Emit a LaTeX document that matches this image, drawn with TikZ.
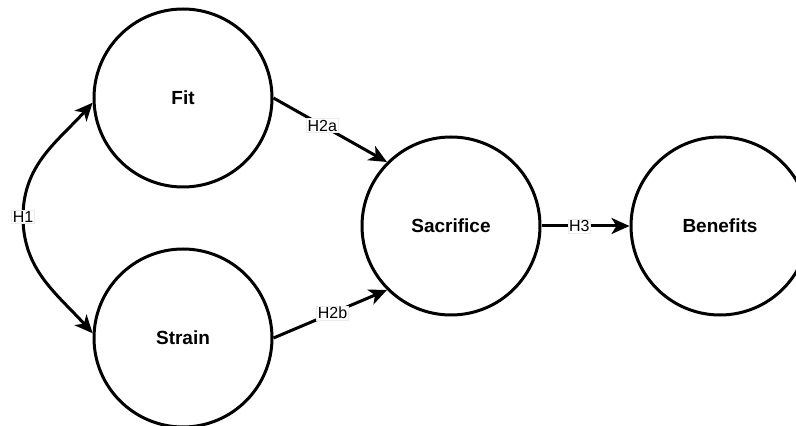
\documentclass[tikz,border=0pt]{standalone}
\usepackage{fontspec}
\setmainfont{Liberation Sans}
\usetikzlibrary{arrows.meta}
\begin{document}
\begin{tikzpicture}[x=1pt,y=1pt,
  construct/.style={circle,draw=black,line width=3pt,minimum size=178pt,inner sep=0pt,
    font=\fontsize{19}{22}\selectfont\bfseries},
  link/.style={line width=3pt,-{Stealth[length=18pt,width=16pt,inset=5pt]}},
  biLink/.style={line width=3pt,{Stealth[length=18pt,width=16pt,inset=5pt]}-{Stealth[length=18pt,width=16pt,inset=5pt]}},
  hyp/.style={fill=white,draw=black!8,line width=0.6pt,inner sep=1.2pt,font=\fontsize{16}{18}\selectfont}]
\useasboundingbox (0,0) rectangle (796,426);
\begin{scope}
\clip (0,0) rectangle (796,426);
\node[construct] (Fit) at (183,328) {Fit};
\node[construct] (Strain) at (183,88) {Strain};
\node[construct] (Sacrifice) at (451,200) {Sacrifice};
\node[construct] (Benefits) at (720,200) {Benefits};
\end{scope}
\coordinate (h1mid) at (23,209);
\draw[link] (Fit.east) -- node[hyp,pos=0.43] {H2a} (Sacrifice.135);
\draw[link] (Strain.east) -- node[hyp,pos=0.52] {H2b} (Sacrifice.225);
\draw[link] (Sacrifice.east) -- node[hyp,pos=0.43] {H3} (Benefits.west);
\draw[biLink] (Fit.183) to[out=228,in=90] (h1mid) to[out=-90,in=132] (Strain.177);
\node[hyp] (h1lab) at (h1mid) {H1};
\end{tikzpicture}
\end{document}
